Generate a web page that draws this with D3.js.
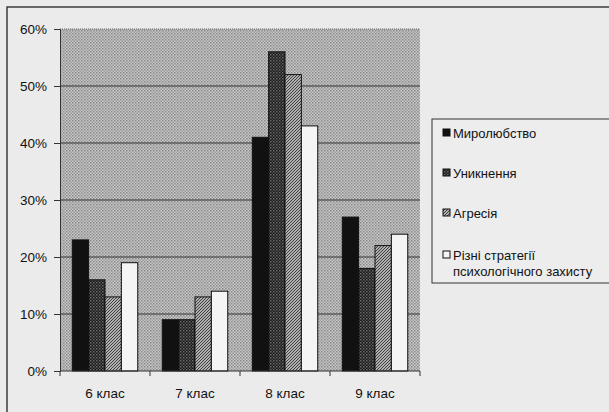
<!DOCTYPE html>
<html>
<head>
<meta charset="utf-8">
<script src="https://cdn.jsdelivr.net/npm/d3@7"></script>
<style>
  body { margin: 0; background: #ebebeb; }
  text { font-family: "Liberation Sans", Arial, sans-serif; fill: #111; }
</style>
</head>
<body>
<div id="chart"></div>
<script>
// categories and series
const grades = ["6 клас", "7 клас", "8 клас", "9 клас"]
const seriesNames = ["Миролюбство", "Уникнення", "Агресія", "Різні стратегії психологічного захисту"]
const myroliubstvo = [23, 9, 41, 27]
const unyknennia = [16, 9, 56, 18]
const ahresiia = [13, 13, 52, 22]
const rizni = [19, 14, 43, 24]
const yTicks = [0, 10, 20, 30, 40, 50, 60]

const values = [myroliubstvo, unyknennia, ahresiia, rizni]

const W = 609, H = 412
const svg = d3.select("#chart").append("svg")
    .attr("width", W)
    .attr("height", H)

// fill patterns like the old b/w excel chart
const defs = svg.append("defs")

let p = defs.append("pattern").attr("id", "bgDots")
    .attr("width", 3).attr("height", 3).attr("patternUnits", "userSpaceOnUse")
p.append("rect").attr("width", 3).attr("height", 3).attr("fill", "#c6c6c6")
p.append("rect").attr("width", 1.5).attr("height", 1.5).attr("fill", "#8a8a8a")
p.append("rect").attr("x", 1.5).attr("y", 1.5).attr("width", 1.5).attr("height", 1.5).attr("fill", "#9c9c9c")

p = defs.append("pattern").attr("id", "darkCheck")
    .attr("width", 3).attr("height", 3).attr("patternUnits", "userSpaceOnUse")
p.append("rect").attr("width", 3).attr("height", 3).attr("fill", "#1a1a1a")
p.append("rect").attr("width", 1.5).attr("height", 1.5).attr("fill", "#6a6a6a")
p.append("rect").attr("x", 1.5).attr("y", 1.5).attr("width", 1.5).attr("height", 1.5).attr("fill", "#4a4a4a")

p = defs.append("pattern").attr("id", "hatch")
    .attr("width", 3).attr("height", 3).attr("patternUnits", "userSpaceOnUse")
p.append("rect").attr("width", 3).attr("height", 3).attr("fill", "#b0b0b0")
p.append("path").attr("d", "M0,3 L3,0 M-1,1 L1,-1 M2,4 L4,2")
    .attr("stroke", "#404040").attr("stroke-width", 1)

const fills = ["#111111", "url(#darkCheck)", "url(#hatch)", "#f4f4f4"]

// paper + outer frame (cut off at right/bottom)
svg.append("rect").attr("width", W).attr("height", H).attr("fill", "#ebebeb")
svg.append("rect")
    .attr("x", 7).attr("y", 7)
    .attr("width", 640).attr("height", 440)
    .attr("fill", "none")
    .attr("stroke", "#222")
    .attr("stroke-width", 1.3)

const plotL = 60, plotR = 420, plotT = 29, plotB = 371

const x = d3.scaleBand().domain(grades).range([plotL, plotR]).padding(0)
const xs = d3.scaleBand().domain(d3.range(seriesNames.length))
    .range([0, x.bandwidth()]).paddingInner(0).paddingOuter(0.75)
const y = d3.scaleLinear().domain([0, 60]).range([plotB, plotT])

// plot area
svg.append("rect")
    .attr("x", plotL).attr("y", plotT)
    .attr("width", plotR - plotL).attr("height", plotB - plotT)
    .attr("fill", "url(#bgDots)")

// gridlines
svg.append("g").selectAll("line")
    .data(yTicks.filter(d => d > 0))
    .enter().append("line")
    .attr("x1", plotL).attr("x2", plotR)
    .attr("y1", d => y(d)).attr("y2", d => y(d))
    .attr("stroke", d => d == 60 ? "#666" : "#333")
    .attr("stroke-dasharray", d => d == 60 ? "1,1" : null)
    .attr("stroke-width", 1)

// bars
const groups = svg.append("g").selectAll("g")
    .data(grades)
    .enter().append("g")
    .attr("transform", d => "translate(" + x(d) + ",0)")

groups.selectAll("rect")
    .data((g, gi) => values.map((s, si) => ({ si: si, v: s[gi] })))
    .enter().append("rect")
    .attr("x", d => xs(d.si))
    .attr("width", xs.bandwidth())
    .attr("y", d => y(d.v))
    .attr("height", d => y(0) - y(d.v))
    .attr("fill", d => fills[d.si])
    .attr("stroke", "#111")
    .attr("stroke-width", 1)

// y axis
const yAxis = svg.append("g")
    .attr("transform", "translate(" + plotL + ",0)")
    .call(d3.axisLeft(y).tickValues(yTicks).tickFormat(d => d + "%").tickSizeOuter(0).tickSize(6).tickPadding(7))
yAxis.select(".domain").attr("stroke", "#333")
yAxis.selectAll(".tick line").attr("stroke", "#333")
yAxis.selectAll("text").style("font-size", "13.5px").attr("fill", "#111")

// x axis, ticks between categories
const xAxis = svg.append("g")
    .attr("transform", "translate(0," + plotB + ")")
xAxis.append("line")
    .attr("x1", plotL).attr("x2", plotR)
    .attr("stroke", "#333")
xAxis.selectAll(".sep")
    .data(d3.range(grades.length + 1))
    .enter().append("line")
    .attr("x1", i => plotL + i * x.step()).attr("x2", i => plotL + i * x.step())
    .attr("y1", 0).attr("y2", 5)
    .attr("stroke", "#333")
xAxis.selectAll("text")
    .data(grades)
    .enter().append("text")
    .attr("x", d => x(d) + x.bandwidth() / 2)
    .attr("y", 27)
    .attr("text-anchor", "middle")
    .style("font-size", "13.5px")
    .text(d => d)

// legend
const leg = svg.append("g")
leg.append("rect")
    .attr("x", 432).attr("y", 119)
    .attr("width", 200).attr("height", 164)
    .attr("fill", "#ededed")
    .attr("stroke", "#333")
    .attr("stroke-width", 1)

const legY = [133, 173, 213, 255]
seriesNames.forEach((name, i) => {
    leg.append("rect")
        .attr("x", 443).attr("y", legY[i] - 4)
        .attr("width", 7).attr("height", 7)
        .attr("fill", fills[i])
        .attr("stroke", "#111")
    const t = leg.append("text")
        .attr("x", 453).attr("y", legY[i] + 5)
        .style("font-size", "13px")
    if (i == 3) {
        t.append("tspan").text("Різні стратегії")
        t.append("tspan").attr("x", 453).attr("dy", 16).text("психологічного захисту")
    } else {
        t.text(name)
    }
})
</script>
</body>
</html>
